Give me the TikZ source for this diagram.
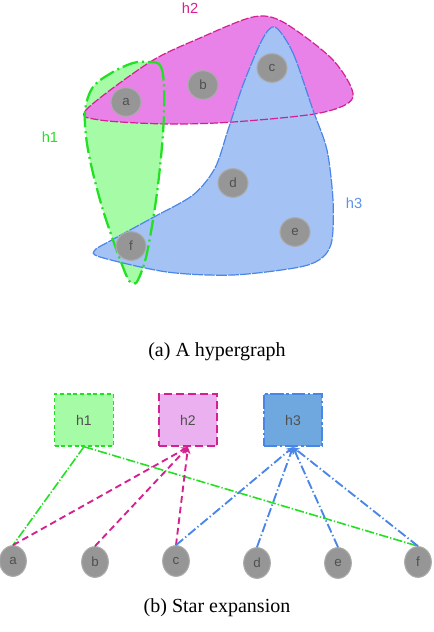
\documentclass[tikz,border=0pt]{standalone}
\usepackage{fontspec}
\setmainfont{Liberation Serif}
\newfontfamily\lblfont{Liberation Sans}
\usepackage{tikz}
\usetikzlibrary{arrows.meta,positioning,shapes.geometric}
\definecolor{hOneFill}{HTML}{A6FBA6}
\definecolor{hOneLine}{HTML}{22E022}
\definecolor{hTwoFill}{HTML}{E882E8}
\definecolor{hTwoBox}{HTML}{EAB0F0}
\definecolor{hTwoLine}{HTML}{D42090}
\definecolor{hThreeFill}{HTML}{A4C2F4}
\definecolor{hThreeBox}{HTML}{6FA8DF}
\definecolor{hThreeLine}{HTML}{4A86E8}
\definecolor{vtxFill}{HTML}{969696}
\definecolor{vtxText}{HTML}{505050}

\begin{document}
\begin{tikzpicture}[
  x=0.75pt, y=-0.75pt,
  vtx/.style={ellipse, fill=vtxFill, draw=vtxFill!80!white, line width=0.8pt, inner sep=0pt, font=\lblfont\fontsize{10}{12}\selectfont, text=vtxText},
  topv/.style={vtx, minimum width=22.5pt, minimum height=21.5pt},
  botv/.style={vtx, minimum width=20pt, minimum height=23pt},
  hbox/.style={minimum width=44pt, minimum height=39pt, inner sep=0pt, font=\lblfont\fontsize{10.5}{12}\selectfont, text=vtxText},
  hlab/.style={font=\lblfont\fontsize{11}{13}\selectfont},
  captext/.style={font=\fontsize{15}{18}\selectfont},
  edgeOne/.style={hOneLine, line width=1.2pt, dash pattern=on 7pt off 1.5pt on 1pt off 1.5pt},
  edgeTwo/.style={hTwoLine, line width=1.4pt, dash pattern=on 5pt off 3pt, -{Stealth[length=5pt,width=5pt]}},
  edgeThree/.style={hThreeLine, line width=1.4pt, dash pattern=on 7pt off 2pt on 1pt off 2pt, -{Stealth[length=5pt,width=5pt]}}
]
  \useasboundingbox (0,0) rectangle (434,632);

  % hyperedges, fills first
  \fill[hOneFill] plot[smooth cycle, tension=0.55] coordinates {(147,62) (160,65) (164,87) (163,133) (157,193) (147,253) (138,280) (133,283) (127,277) (113,240) (100,200) (88,150) (85,112) (93,87) (113,72) (133,63)};
  \fill[hTwoFill] plot[smooth cycle, tension=0.5] coordinates {(86,110) (150,62) (200,38) (253,17) (283,22) (333,60) (353,97) (320,113) (233,122) (167,124) (100,120)};
  \fill[hThreeFill] plot[smooth cycle, tension=0.5] coordinates {(275,27) (293,53) (313,110) (327,150) (333,200) (332,240) (323,257) (300,267) (233,275) (167,272) (100,257) (95,250) (110,241) (152,218) (193,195) (215,168) (228,130) (243,85) (262,40)};

  \draw[hTwoLine, line width=0.9pt, dash pattern=on 6pt off 1.5pt] plot[smooth cycle, tension=0.5] coordinates {(86,110) (150,62) (200,38) (253,17) (283,22) (333,60) (353,97) (320,113) (233,122) (167,124) (100,120)};
  \draw[hThreeLine, line width=0.9pt, dash pattern=on 8pt off 1pt] plot[smooth cycle, tension=0.5] coordinates {(275,27) (293,53) (313,110) (327,150) (333,200) (332,240) (323,257) (300,267) (233,275) (167,272) (100,257) (95,250) (110,241) (152,218) (193,195) (215,168) (228,130) (243,85) (262,40)};
  \draw[hOneLine, line width=1.7pt, dash pattern=on 12pt off 3pt on 1.5pt off 3pt] plot[smooth cycle, tension=0.55] coordinates {(147,62) (160,65) (164,87) (163,133) (157,193) (147,253) (138,280) (133,283) (127,277) (113,240) (100,200) (88,150) (85,112) (93,87) (113,72) (133,63)};

  \node[hlab, text=hOneLine] (l1) at (50,137) {h1};
  \node[hlab, text=hTwoLine] (l2) at (190,8) {h2};
  \node[hlab, text=hThreeLine!90!white] (l3) at (354,203) {h3};

  \node[topv] (a) at (126,102) {a};
  \node[topv] (b) at (203,85) {b};
  \node[topv] (c) at (272,68) {c};
  \node[topv] (d) at (233,183) {d};
  \node[topv] (e) at (295,232) {e};
  \node[topv] (f) at (131,246) {f};

  \node[captext] (capa) at (217,352) {(a) A hypergraph};

  % star expansion
  \node[hbox, fill=hOneFill, draw=hOneLine, line width=1pt, densely dashed] (s1) at (84,420) {h1};
  \node[hbox, fill=hTwoBox, draw=hTwoLine, line width=1.7pt, dash pattern=on 6pt off 3pt] (s2) at (188,420) {h2};
  \node[hbox, fill=hThreeBox, draw=hThreeLine, line width=1.7pt, dash pattern=on 10pt off 2pt on 2pt off 2pt] (s3) at (293,420) {h3};

  \node[botv] (a2) at (13,561) {a};
  \node[botv] (b2) at (95,562) {b};
  \node[botv] (c2) at (176,561) {c};
  \node[botv] (d2) at (257,563) {d};
  \node[botv] (e2) at (338,563) {e};
  \node[botv] (f2) at (418,562) {f};

  \draw[edgeOne] (s1.south) -- (a2.north);
  \draw[edgeOne] (s1.south) -- (f2.north);
  \draw[edgeTwo] (a2.north) -- (s2.south);
  \draw[edgeTwo] (b2.north) -- (s2.south);
  \draw[edgeTwo] (c2.north) -- (s2.south);
  \draw[edgeThree] (c2.north) -- (s3.south);
  \draw[edgeThree] (d2.north) -- (s3.south);
  \draw[edgeThree] (e2.north) -- (s3.south);
  \draw[edgeThree] (f2.north) -- (s3.south);

  \node[captext] (capb) at (217,608) {(b) Star expansion};
\end{tikzpicture}
\end{document}
